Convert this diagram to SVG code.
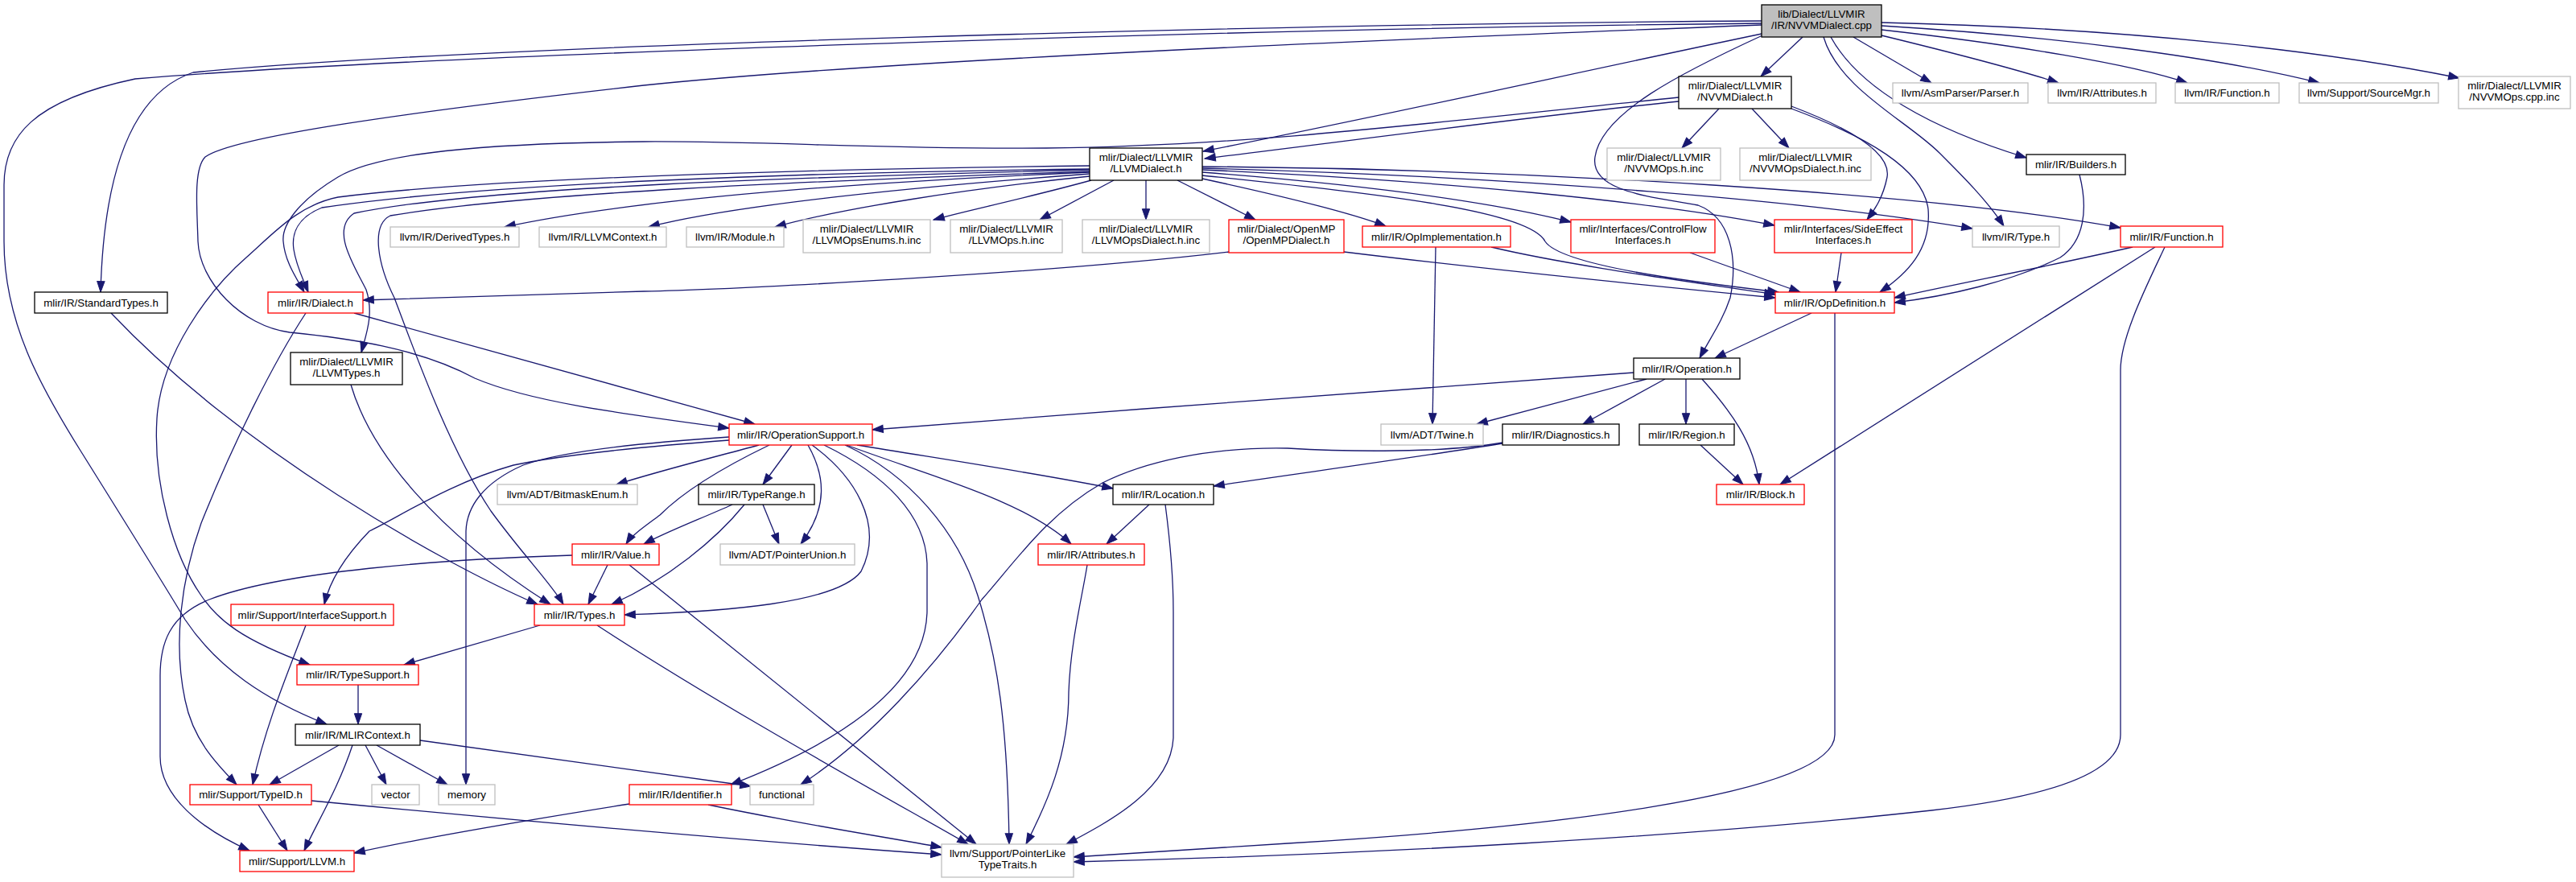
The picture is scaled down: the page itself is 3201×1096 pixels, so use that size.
<svg xmlns="http://www.w3.org/2000/svg" width="3201" height="1096" viewBox="0 0 3201 1096">
<style>
.node rect{stroke-width:1.3}
.blk{fill:#fff;stroke:#000}
.gry{fill:#fff;stroke:#bfbfbf}
.red{fill:#fff;stroke:#ff0000}
.root{fill:#bfbfbf;stroke:#000}
text{font-family:"Liberation Sans",Arial,sans-serif;font-size:13.3px;text-anchor:middle;fill:#000}
.e{fill:none;stroke:#191970;stroke-width:1.3;marker-end:url(#arr)}
</style>
<defs>
<marker id="arr" markerUnits="userSpaceOnUse" viewBox="0 0 14 10" markerWidth="14" markerHeight="10" refX="13.3" refY="4.65" orient="auto" overflow="visible">
<path d="M0,0 L13.3,4.65 L0,9.3 z" fill="#191970" stroke="#191970" stroke-width="1"/>
</marker>
</defs>
<rect x="0" y="0" width="3201" height="1096" fill="#fff"/>
<g id="edges">
<path class="e" d="M2240,46 L2188,95"/>
<path class="e" d="M2189,42 C1950,92 1700,148 1495,188"/>
<path class="e" d="M2189,26 C1600,30 600,55 240,90 C150,120 128,250 125,363"/>
<path class="e" d="M2189,29 C1500,36 500,70 168,98 C40,125 5,170 5,230 L5,300 C5,400 50,480 100,560 C150,640 200,720 230,770 C270,830 330,870 406,900"/>
<path class="e" d="M2189,31 C1700,50 1100,75 800,106 C500,140 290,170 255,195 C240,210 245,260 246,300 C248,350 300,405 360,413 C430,420 520,432 590,470 C660,500 780,515 906,532"/>
<path class="e" d="M2190,44 C2090,90 1990,140 1982,195 C1975,240 2060,245 2110,255 C2150,270 2160,320 2150,370 C2140,400 2125,420 2112,445"/>
<path class="e" d="M2275,46 C2310,110 2400,160 2518,196"/>
<path class="e" d="M2266,46 C2285,110 2370,150 2410,190 C2440,220 2470,250 2490,281"/>
<path class="e" d="M2303,46 L2400,103"/>
<path class="e" d="M2338,44 C2420,64 2500,84 2558,103"/>
<path class="e" d="M2338,37 C2500,55 2650,80 2718,103"/>
<path class="e" d="M2338,32 C2550,45 2750,70 2882,103"/>
<path class="e" d="M2338,28 C2650,35 2900,65 3056,97"/>
<path class="e" d="M2086,126 C1900,145 1700,172 1497,197"/>
<path class="e" d="M2136,135 L2090,184"/>
<path class="e" d="M2177,135 L2223,184"/>
<path class="e" d="M2226,132 C2300,160 2350,190 2345,220 C2340,245 2330,260 2320,273"/>
<path class="e" d="M2226,135 C2320,170 2390,210 2396,260 C2400,310 2370,340 2336,363"/>
<path class="e" d="M2086,121 C1800,150 1550,182 1300,184 C1100,186 950,175 800,176 C600,178 470,190 420,220 C370,250 350,280 352,300 C354,325 368,345 378,363"/>
<path class="e" d="M1354,214 C1100,225 800,245 627,282"/>
<path class="e" d="M1354,216 C1100,235 900,258 806,282"/>
<path class="e" d="M1354,219 C1200,235 1050,258 963,282"/>
<path class="e" d="M1356,224 C1280,245 1200,262 1160,273"/>
<path class="e" d="M1384,224 L1292,273"/>
<path class="e" d="M1424,224 L1424,273"/>
<path class="e" d="M1463,224 L1560,273"/>
<path class="e" d="M1494,222 C1600,245 1680,265 1722,281"/>
<path class="e" d="M1494,214 C1700,230 1850,250 1952,276"/>
<path class="e" d="M1494,211 C1800,225 2050,250 2205,280"/>
<path class="e" d="M1494,209 C1900,220 2250,250 2451,284"/>
<path class="e" d="M1494,207 C1900,210 2400,240 2635,283"/>
<path class="e" d="M1494,218 C1700,240 1900,260 1920,300 C1940,330 2100,350 2210,363"/>
<path class="e" d="M1354,210 C1000,214 600,228 400,258 C370,270 362,290 365,310 C368,330 376,345 383,363"/>
<path class="e" d="M1354,206 C1000,210 600,222 420,245 C370,255 340,290 306,320 C260,360 200,440 195,520 C190,600 215,690 250,740 C270,770 300,795 385,826"/>
<path class="e" d="M1354,211 C1000,220 600,232 440,265 C410,285 440,330 455,360 C465,390 455,415 449,438"/>
<path class="e" d="M1354,213 C1000,225 650,240 485,268 C460,280 470,330 490,370 C520,450 560,560 610,635 C650,690 685,725 700,751"/>
<path class="e" d="M1527,313 C1300,340 900,360 800,362 C650,366 520,370 451,373"/>
<path class="e" d="M1670,313 C1850,335 2050,355 2206,370"/>
<path class="e" d="M1853,307 C1950,330 2100,350 2206,366"/>
<path class="e" d="M1784,307 L1780,527"/>
<path class="e" d="M2100,314 L2237,363"/>
<path class="e" d="M2288,314 L2281,363"/>
<path class="e" d="M2650,307 C2550,330 2420,355 2354,370"/>
<path class="e" d="M2584,217 C2595,260 2590,300 2560,320 C2500,350 2420,368 2354,376"/>
<path class="e" d="M2251,389 L2131,445"/>
<path class="e" d="M2280,389 L2280,913 C2280,990 1900,1030 1600,1048 C1500,1055 1400,1060 1334,1065"/>
<path class="e" d="M2690,307 C2665,360 2635,420 2635,460 L2635,913 C2635,960 2550,990 2400,1007 C2100,1040 1700,1062 1334,1071"/>
<path class="e" d="M2678,307 L2212,602"/>
<path class="e" d="M2030,463 C1800,482 1400,508 1084,534"/>
<path class="e" d="M2046,471 L1835,527"/>
<path class="e" d="M2069,471 L1967,527"/>
<path class="e" d="M2095,471 L2095,527"/>
<path class="e" d="M2115,471 C2150,510 2180,550 2186,602"/>
<path class="e" d="M2113,553 L2166,602"/>
<path class="e" d="M1867,551 C1750,570 1600,590 1508,604"/>
<path class="e" d="M1867,550 C1780,565 1650,560 1600,557 C1500,555 1420,575 1370,600 C1300,640 1260,700 1220,745 C1160,830 1080,920 995,975"/>
<path class="e" d="M440,389 L938,527"/>
<path class="e" d="M380,389 C340,450 290,550 250,650 C225,720 215,800 230,870 C240,920 270,950 294,975"/>
<path class="e" d="M436,478 C460,560 540,660 684,751"/>
<path class="e" d="M138,389 C300,560 550,700 668,751"/>
<path class="e" d="M906,543 C800,550 700,560 650,578 C600,600 580,630 579,660 L579,975"/>
<path class="e" d="M906,547 C800,555 700,565 638,578 C560,600 500,640 459,660 C430,690 410,720 403,751"/>
<path class="e" d="M943,553 C880,570 820,585 766,602"/>
<path class="e" d="M956,553 C900,580 850,610 820,640 C800,655 785,665 778,676"/>
<path class="e" d="M984,553 L948,602"/>
<path class="e" d="M1004,553 C1025,590 1030,630 995,676"/>
<path class="e" d="M1009,553 C1060,590 1100,650 1070,710 C1040,750 900,760 776,764"/>
<path class="e" d="M1024,553 C1100,590 1150,640 1152,700 L1152,760 C1150,850 1050,920 908,975"/>
<path class="e" d="M1050,553 C1130,590 1190,660 1215,740 C1240,820 1252,900 1254,1049"/>
<path class="e" d="M1052,553 C1150,590 1270,620 1331,676"/>
<path class="e" d="M1065,553 C1200,575 1300,590 1383,607"/>
<path class="e" d="M1428,627 L1375,676"/>
<path class="e" d="M1448,627 C1455,680 1458,720 1458,760 L1458,917 C1455,980 1380,1020 1325,1049"/>
<path class="e" d="M1351,702 C1345,740 1330,800 1328,860 C1328,940 1300,1000 1275,1049"/>
<path class="e" d="M910,627 C870,645 830,660 800,676"/>
<path class="e" d="M948,627 L968,676"/>
<path class="e" d="M925,627 C890,670 830,720 760,751"/>
<path class="e" d="M782,702 L1213,1049"/>
<path class="e" d="M755,702 L731,751"/>
<path class="e" d="M711,690 C550,695 350,710 260,745 C210,765 199,800 199,840 L199,940 C199,990 250,1030 310,1057"/>
<path class="e" d="M380,777 C360,830 330,900 314,975"/>
<path class="e" d="M671,777 L502,826"/>
<path class="e" d="M742,777 C900,880 1100,990 1203,1049"/>
<path class="e" d="M445,851 L445,900"/>
<path class="e" d="M421,926 L335,975"/>
<path class="e" d="M438,926 C420,980 395,1020 378,1057"/>
<path class="e" d="M454,926 L480,975"/>
<path class="e" d="M468,926 L556,975"/>
<path class="e" d="M522,920 C700,945 850,965 933,977"/>
<path class="e" d="M321,1000 L357,1057"/>
<path class="e" d="M387,995 C700,1025 1000,1050 1170,1062"/>
<path class="e" d="M782,999 C650,1020 530,1040 440,1060"/>
<path class="e" d="M880,1000 C1000,1025 1100,1040 1170,1053"/>
</g>
<g id="n-cpp" class="node"><rect class="root" x="2189" y="6" width="149" height="40"/><text x="2263.5" y="22">lib/Dialect/LLVMIR</text><text x="2263.5" y="36">/IR/NVVMDialect.cpp</text></g>
<g id="n-nvvmdialect" class="node"><rect class="blk" x="2086" y="95" width="140" height="40"/><text x="2156" y="111">mlir/Dialect/LLVMIR</text><text x="2156" y="125">/NVVMDialect.h</text></g>
<g id="n-llvmdialect" class="node"><rect class="blk" x="1354" y="184" width="140" height="40"/><text x="1424" y="200">mlir/Dialect/LLVMIR</text><text x="1424" y="214">/LLVMDialect.h</text></g>
<g id="n-nvvmops-inc" class="node"><rect class="gry" x="1997" y="184" width="141" height="40"/><text x="2067.5" y="200">mlir/Dialect/LLVMIR</text><text x="2067.5" y="214">/NVVMOps.h.inc</text></g>
<g id="n-nvvmopsdialect-inc" class="node"><rect class="gry" x="2162" y="184" width="163" height="40"/><text x="2243.5" y="200">mlir/Dialect/LLVMIR</text><text x="2243.5" y="214">/NVVMOpsDialect.h.inc</text></g>
<g id="n-asmparser" class="node"><rect class="gry" x="2352" y="103" width="168" height="25"/><text x="2436" y="120">llvm/AsmParser/Parser.h</text></g>
<g id="n-llvm-attributes" class="node"><rect class="gry" x="2545" y="103" width="134" height="25"/><text x="2612" y="120">llvm/IR/Attributes.h</text></g>
<g id="n-llvm-function" class="node"><rect class="gry" x="2703" y="103" width="129" height="25"/><text x="2767.5" y="120">llvm/IR/Function.h</text></g>
<g id="n-sourcemgr" class="node"><rect class="gry" x="2857" y="103" width="173" height="25"/><text x="2943.5" y="120">llvm/Support/SourceMgr.h</text></g>
<g id="n-nvvmops-cpp-inc" class="node"><rect class="gry" x="3055" y="95" width="139" height="40"/><text x="3124.5" y="111">mlir/Dialect/LLVMIR</text><text x="3124.5" y="125">/NVVMOps.cpp.inc</text></g>
<g id="n-builders" class="node"><rect class="blk" x="2518" y="192" width="123" height="25"/><text x="2579.5" y="209">mlir/IR/Builders.h</text></g>
<g id="n-derivedtypes" class="node"><rect class="gry" x="485" y="282" width="160" height="25"/><text x="565" y="299">llvm/IR/DerivedTypes.h</text></g>
<g id="n-llvmcontext" class="node"><rect class="gry" x="670" y="282" width="158" height="25"/><text x="749" y="299">llvm/IR/LLVMContext.h</text></g>
<g id="n-module" class="node"><rect class="gry" x="853" y="282" width="121" height="25"/><text x="913.5" y="299">llvm/IR/Module.h</text></g>
<g id="n-llvmopsenums" class="node"><rect class="gry" x="998" y="273" width="158" height="41"/><text x="1077" y="289">mlir/Dialect/LLVMIR</text><text x="1077" y="303">/LLVMOpsEnums.h.inc</text></g>
<g id="n-llvmops-inc" class="node"><rect class="gry" x="1181" y="273" width="139" height="41"/><text x="1250.5" y="289">mlir/Dialect/LLVMIR</text><text x="1250.5" y="303">/LLVMOps.h.inc</text></g>
<g id="n-llvmopsdialect-inc" class="node"><rect class="gry" x="1345" y="273" width="158" height="41"/><text x="1424" y="289">mlir/Dialect/LLVMIR</text><text x="1424" y="303">/LLVMOpsDialect.h.inc</text></g>
<g id="n-openmp" class="node"><rect class="red" x="1527" y="273" width="143" height="41"/><text x="1598.5" y="289">mlir/Dialect/OpenMP</text><text x="1598.5" y="303">/OpenMPDialect.h</text></g>
<g id="n-opimpl" class="node"><rect class="red" x="1693" y="281" width="184" height="26"/><text x="1785" y="298.5">mlir/IR/OpImplementation.h</text></g>
<g id="n-controlflow" class="node"><rect class="red" x="1952" y="273" width="179" height="41"/><text x="2041.5" y="289">mlir/Interfaces/ControlFlow</text><text x="2041.5" y="303">Interfaces.h</text></g>
<g id="n-sideeffect" class="node"><rect class="red" x="2205" y="273" width="171" height="41"/><text x="2290.5" y="289">mlir/Interfaces/SideEffect</text><text x="2290.5" y="303">Interfaces.h</text></g>
<g id="n-llvm-type" class="node"><rect class="gry" x="2451" y="281" width="108" height="26"/><text x="2505" y="298.5">llvm/IR/Type.h</text></g>
<g id="n-mlir-function" class="node"><rect class="red" x="2635" y="281" width="127" height="26"/><text x="2698.5" y="298.5">mlir/IR/Function.h</text></g>
<g id="n-standardtypes" class="node"><rect class="blk" x="43" y="363" width="165" height="26"/><text x="125.5" y="380.5">mlir/IR/StandardTypes.h</text></g>
<g id="n-dialect" class="node"><rect class="red" x="333" y="363" width="118" height="26"/><text x="392" y="380.5">mlir/IR/Dialect.h</text></g>
<g id="n-opdefinition" class="node"><rect class="red" x="2206" y="363" width="148" height="26"/><text x="2280" y="380.5">mlir/IR/OpDefinition.h</text></g>
<g id="n-llvmtypes" class="node"><rect class="blk" x="361" y="438" width="139" height="40"/><text x="430.5" y="454">mlir/Dialect/LLVMIR</text><text x="430.5" y="468">/LLVMTypes.h</text></g>
<g id="n-operation" class="node"><rect class="blk" x="2030" y="445" width="132" height="26"/><text x="2096" y="462.5">mlir/IR/Operation.h</text></g>
<g id="n-operationsupport" class="node"><rect class="red" x="906" y="527" width="178" height="26"/><text x="995" y="544.5">mlir/IR/OperationSupport.h</text></g>
<g id="n-twine" class="node"><rect class="gry" x="1716" y="527" width="127" height="26"/><text x="1779.5" y="544.5">llvm/ADT/Twine.h</text></g>
<g id="n-diagnostics" class="node"><rect class="blk" x="1867" y="527" width="145" height="26"/><text x="1939.5" y="544.5">mlir/IR/Diagnostics.h</text></g>
<g id="n-region" class="node"><rect class="blk" x="2037" y="527" width="118" height="26"/><text x="2096" y="544.5">mlir/IR/Region.h</text></g>
<g id="n-bitmaskenum" class="node"><rect class="gry" x="618" y="602" width="174" height="25"/><text x="705" y="619">llvm/ADT/BitmaskEnum.h</text></g>
<g id="n-typerange" class="node"><rect class="blk" x="868" y="602" width="144" height="25"/><text x="940" y="619">mlir/IR/TypeRange.h</text></g>
<g id="n-location" class="node"><rect class="blk" x="1383" y="602" width="125" height="25"/><text x="1445.5" y="619">mlir/IR/Location.h</text></g>
<g id="n-block" class="node"><rect class="red" x="2133" y="602" width="109" height="25"/><text x="2187.5" y="619">mlir/IR/Block.h</text></g>
<g id="n-value" class="node"><rect class="red" x="711" y="676" width="108" height="26"/><text x="765" y="693.5">mlir/IR/Value.h</text></g>
<g id="n-pointerunion" class="node"><rect class="gry" x="895" y="676" width="167" height="26"/><text x="978.5" y="693.5">llvm/ADT/PointerUnion.h</text></g>
<g id="n-mlir-attributes" class="node"><rect class="red" x="1290" y="676" width="132" height="26"/><text x="1356" y="693.5">mlir/IR/Attributes.h</text></g>
<g id="n-interfacesupport" class="node"><rect class="red" x="287" y="751" width="202" height="26"/><text x="388" y="768.5">mlir/Support/InterfaceSupport.h</text></g>
<g id="n-types" class="node"><rect class="red" x="664" y="751" width="112" height="26"/><text x="720" y="768.5">mlir/IR/Types.h</text></g>
<g id="n-typesupport" class="node"><rect class="red" x="369" y="826" width="151" height="25"/><text x="444.5" y="843">mlir/IR/TypeSupport.h</text></g>
<g id="n-mlircontext" class="node"><rect class="blk" x="367" y="900" width="155" height="26"/><text x="444.5" y="917.5">mlir/IR/MLIRContext.h</text></g>
<g id="n-typeid" class="node"><rect class="red" x="236" y="975" width="151" height="25"/><text x="311.5" y="992">mlir/Support/TypeID.h</text></g>
<g id="n-vector" class="node"><rect class="gry" x="462" y="975" width="59" height="25"/><text x="491.5" y="992">vector</text></g>
<g id="n-memory" class="node"><rect class="gry" x="545" y="975" width="70" height="25"/><text x="580" y="992">memory</text></g>
<g id="n-identifier" class="node"><rect class="red" x="782" y="975" width="127" height="25"/><text x="845.5" y="992">mlir/IR/Identifier.h</text></g>
<g id="n-functional" class="node"><rect class="gry" x="932" y="975" width="79" height="25"/><text x="971.5" y="992">functional</text></g>
<g id="n-llvm-h" class="node"><rect class="red" x="298" y="1057" width="142" height="26"/><text x="369" y="1074.5">mlir/Support/LLVM.h</text></g>
<g id="n-pointerlike" class="node"><rect class="gry" x="1170" y="1049" width="164" height="41"/><text x="1252" y="1065">llvm/Support/PointerLike</text><text x="1252" y="1079">TypeTraits.h</text></g>
</svg>
